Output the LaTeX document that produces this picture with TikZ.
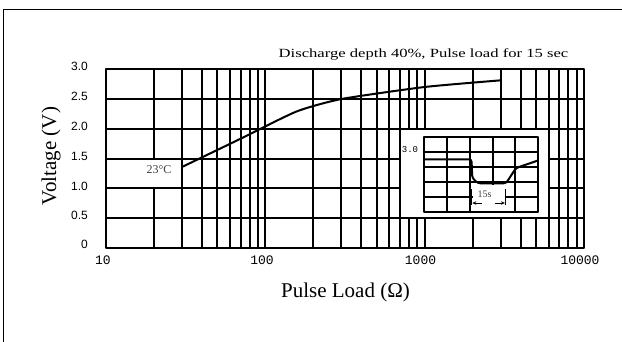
\documentclass[tikz,border=0pt]{standalone}
\usepackage{fontspec}
\setmainfont{Liberation Serif}
\newfontfamily\sansf{Liberation Sans}
\newfontfamily\monof{Liberation Mono}
\usepackage{graphicx}
\usetikzlibrary{arrows.meta}
\tikzset{
  gridline/.style={line width=2pt, line cap=butt},
  curveline/.style={line width=2pt, line join=round, line cap=round},
  ytick/.style={anchor=east, inner sep=0pt, font=\sansf\fontsize{12}{13}\selectfont},
  xtick/.style={anchor=center, inner sep=0pt, font=\monof\fontsize{13}{14}\selectfont},
  axislabel/.style={inner sep=0pt, font=\fontsize{21}{23}\selectfont},
  smalllabel/.style={inner sep=0pt, text=black!75},
}
\begin{document}
\begin{tikzpicture}[x=1pt,y=-1pt]
\useasboundingbox (0,0) rectangle (622,341);
\clip (0,0) rectangle (622,341);
% outer frame
\draw[line width=1.3pt] (3.5,9.5) rectangle (660,380);
% main grid
\foreach \v in {1,...,5} \draw[gridline] (106,{248-29.833*\v}) -- (584,{248-29.833*\v});
\foreach \d in {0,1,2}{\foreach \m in {2,...,9}{
  \draw[gridline] ({106+159.3*(\d+log10(\m))},69) -- ({106+159.3*(\d+log10(\m))},248);}}
\draw[gridline] (265.3,69) -- (265.3,248);
\draw[gridline] (424.6,69) -- (424.6,248);
\draw[gridline, line join=round] (106,69) rectangle (584,248);
% gap behind the temperature label
\fill[white] (151,159.6) rectangle (157,187.3);
% inset white area
\fill[white] (401,129.7) rectangle (547.6,217.2);
% main curve
\draw[curveline] plot[smooth, tension=0.35] coordinates
  {(183,166.5) (240,139) (296.5,111.5) (341.5,99) (424.6,87) (501,80.3)};
% inset
\draw[gridline, line join=round] (424,137) rectangle (538,211.5);
\foreach \xx in {446.7,470,492.7,515.3} \draw[gridline] (\xx,137) -- (\xx,211.5);
\foreach \yy in {152,166.7,181.7,196.7} \draw[gridline] (424,\yy) -- (538,\yy);
\fill[white] (472.6,184.6) rectangle (505.4,210.5);
\draw[curveline, rounded corners=2.5pt] (424,159.3) -- (471.5,159.3) -- (472.3,178) -- (478,183.3)
  -- (506,183.3) -- (516,168) -- (538,160.5);
\draw[line width=1.5pt] (471.7,189) -- (471.7,205);
\draw[line width=1.5pt] (505.5,189) -- (505.5,205);
\draw[line width=1pt, {Stealth[length=4pt,width=3.5pt]}-] (472.3,203) -- (482,203);
\draw[line width=1pt, -{Stealth[length=4pt,width=3.5pt]}] (495,203) -- (504.9,203);
\node[smalllabel, font=\fontsize{10}{11}\selectfont] (dur) at (484.5,194) {15s};
\node[inner sep=0pt, font=\monof\fontsize{9}{10}\selectfont] (ins) at (410,149.5) {3.0};
% tick labels
\node[ytick] (y30) at (88,66) {3.0};
\node[ytick] (y25) at (88,96) {2.5};
\node[ytick] (y20) at (88,126) {2.0};
\node[ytick] (y15) at (88,156) {1.5};
\node[ytick] (y10) at (88,186) {1.0};
\node[ytick] (y05) at (88,215.5) {0.5};
\node[ytick] (y00) at (88,244.5) {0};
\node[xtick] (x1) at (103,260.5) {10};
\node[xtick] (x2) at (262,260.5) {100};
\node[xtick] (x3) at (420.5,260.5) {1000};
\node[xtick] (x4) at (580,260.5) {10000};
% labels
\node[smalllabel, font=\fontsize{12}{13}\selectfont] (temp) at (159,170) {23°C};
\node[inner sep=0pt, font=\fontsize{12.5}{14}\selectfont] (title) at (423.5,54)
  {\scalebox{1.33}[1]{Discharge depth 40\%, Pulse load for 15 sec}};
\node[axislabel, rotate=90] (ylab) at (51,156) {Voltage (V)};
\node[axislabel] (xlab) at (345.5,292) {Pulse Load (Ω)};
\end{tikzpicture}
\end{document}
